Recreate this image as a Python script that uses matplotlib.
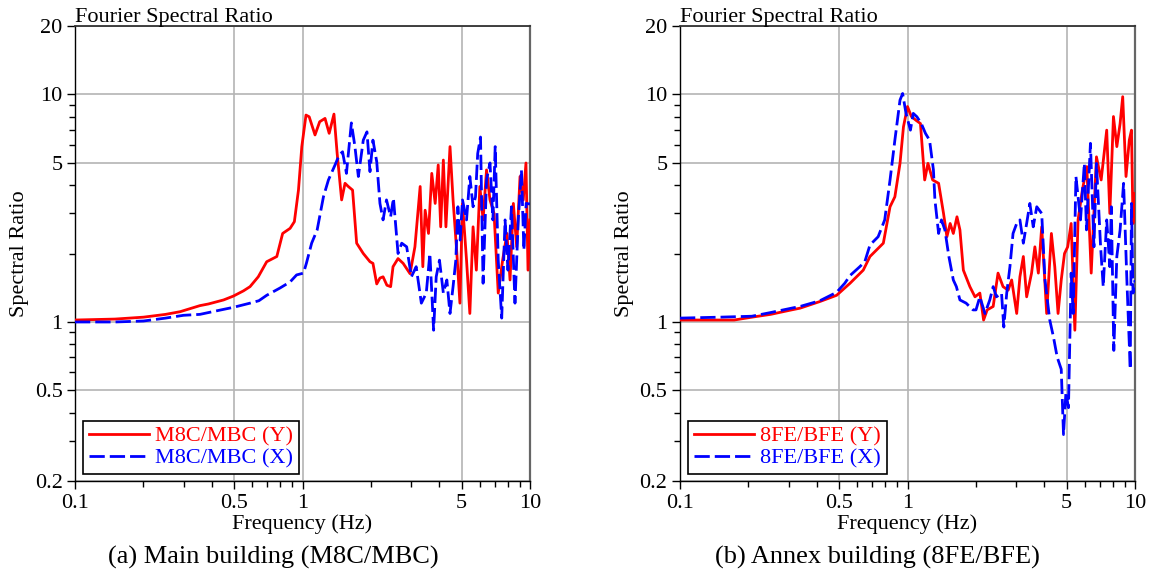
import numpy as np
import matplotlib
matplotlib.use("Agg")
from matplotlib import pyplot as plt
from matplotlib.ticker import FixedLocator, FixedFormatter, NullFormatter

plt.rcParams['font.family'] = ['Liberation Serif', 'DejaVu Serif']

# ---- data ----
# (a) main building, Y direction (red, solid)
main_fy = [0.1, 0.15, 0.2, 0.25, 0.29, 0.354, 0.386, 0.45, 0.497, 0.55, 0.588, 0.639,
           0.696, 0.771, 0.818, 0.882, 0.921, 0.96, 0.993, 1.036, 1.07, 1.135, 1.19,
           1.256, 1.31, 1.375, 1.42, 1.486, 1.538, 1.59, 1.66, 1.73, 1.85, 1.98, 2.04,
           2.12, 2.19, 2.26, 2.35, 2.44, 2.50, 2.63, 2.77, 2.97, 3.12, 3.29, 3.38, 3.46,
           3.58, 3.70, 3.83, 3.95, 4.05, 4.16, 4.27, 4.45, 4.59, 4.77, 4.92, 5.05, 5.26,
           5.44, 5.62, 5.81, 6.02, 6.22, 6.44, 6.67, 6.95, 7.25, 7.58, 7.92, 8.17, 8.45,
           8.74, 9.04, 9.34, 9.6, 9.8, 10.0]
main_y = [1.02, 1.03, 1.05, 1.08, 1.11, 1.18, 1.20, 1.25, 1.30, 1.37, 1.43, 1.58,
          1.84, 1.94, 2.45, 2.58, 2.76, 3.80, 5.90, 8.12, 7.98, 6.64, 7.59,
          7.85, 6.75, 8.2, 5.51, 3.44, 4.07, 3.94, 3.8, 2.22, 2.0, 1.84, 1.81,
          1.47, 1.56, 1.58, 1.45, 1.43, 1.75, 1.90, 1.81, 1.63, 2.14, 3.94, 1.75, 3.10,
          2.45, 4.5, 3.32, 4.90, 2.62, 5.15, 2.62, 5.9, 3.44, 2.0, 1.21, 3.32, 1.87,
          1.09, 2.62, 1.69, 3.94, 2.81, 4.66, 3.44, 3.0, 1.34, 1.87, 2.45, 1.53, 3.32,
          2.14, 4.36, 3.44, 5.0, 1.69, 2.81]

# (a) main building, X direction (blue, dashed)
main_fx = [0.1, 0.15, 0.2, 0.25, 0.3, 0.354, 0.42, 0.497, 0.588, 0.643, 0.696, 0.796,
           0.882, 0.942, 1.01, 1.04, 1.097, 1.16, 1.236, 1.30, 1.39, 1.45, 1.50, 1.56,
           1.64, 1.70, 1.76, 1.85, 1.92, 1.98, 2.04, 2.12, 2.19, 2.26, 2.34, 2.44, 2.51,
           2.63, 2.73, 2.87, 3.01, 3.16, 3.33, 3.50, 3.63, 3.77, 3.87, 4.0, 4.16, 4.31,
           4.45, 4.59, 4.72, 4.82, 4.93, 5.05, 5.26, 5.44, 5.62, 5.76, 5.89, 6.06, 6.22,
           6.44, 6.67, 6.87, 7.03, 7.25, 7.51, 7.77, 8.0, 8.29, 8.59, 8.88, 9.17, 9.4,
           9.62, 10.0]
main_x = [1.0, 1.0, 1.01, 1.04, 1.07, 1.08, 1.12, 1.16, 1.21, 1.24, 1.31, 1.41,
          1.50, 1.61, 1.64, 1.81, 2.22, 2.54, 3.55, 4.21, 4.90, 5.42, 5.6, 4.5,
          7.5, 5.9, 4.36, 6.3, 6.85, 4.58, 6.3, 5.06, 3.32, 2.81, 3.44, 2.9, 3.5,
          2.0, 2.22, 2.14, 1.58, 1.75, 1.21, 1.34, 2.0, 0.92, 1.58, 1.87, 1.34, 1.53,
          1.09, 1.43, 1.87, 3.21, 2.29, 3.44, 2.81, 4.36, 3.21, 3.55, 5.5, 6.5, 1.48,
          4.21, 5.0, 2.81, 5.9, 1.87, 1.04, 2.81, 1.69, 3.21, 1.21, 2.81, 4.66, 2.07,
          3.32, 3.3]

# (b) annex building, Y direction (red, solid)
annex_fy = [0.1, 0.15, 0.173, 0.207, 0.25, 0.309, 0.337, 0.412, 0.488, 0.559, 0.639,
            0.684, 0.73, 0.783, 0.838, 0.88, 0.927, 0.96, 1.0, 1.04, 1.09, 1.14, 1.19,
            1.23, 1.29, 1.37, 1.44, 1.49, 1.54, 1.59, 1.65, 1.70, 1.76, 1.88, 1.98, 2.08,
            2.16, 2.24, 2.38, 2.5, 2.63, 2.77, 2.87, 3.02, 3.12, 3.23, 3.34, 3.51, 3.63,
            3.76, 3.89, 4.09, 4.29, 4.44, 4.59, 4.74, 4.9, 5.06, 5.24, 5.44, 5.62, 5.87,
            6.14, 6.42, 6.77, 7.1, 7.51, 7.75, 8.04, 8.32, 8.6, 8.83, 9.13, 9.44, 9.65,
            9.8, 10.0]
annex_y = [1.02, 1.02, 1.02, 1.05, 1.08, 1.13, 1.15, 1.23, 1.31, 1.48, 1.69,
           1.94, 2.07, 2.22, 3.21, 3.55, 4.98, 7.21, 8.85, 8.0, 7.7, 7.45, 4.21,
           4.98, 4.21, 4.07, 3.0, 2.37, 2.71, 2.45, 2.9, 2.54, 1.69, 1.43, 1.29, 1.34,
           1.02, 1.13, 1.17, 1.64, 1.43, 1.38, 1.53, 1.09, 1.58, 1.94, 1.29, 1.64, 2.14,
           1.64, 2.62, 1.09, 2.45, 1.75, 1.09, 1.53, 2.0, 2.14, 2.71, 0.92, 2.81, 3.8,
           4.82, 1.64, 5.32, 4.21, 6.97, 3.0, 8.0, 5.9, 7.45, 9.78, 4.36, 6.3, 6.97,
           2.71, 3.67]

# (b) annex building, X direction (blue, dashed)
annex_fx = [0.1, 0.15, 0.207, 0.25, 0.309, 0.337, 0.412, 0.488, 0.53, 0.559, 0.617,
            0.649, 0.684, 0.743, 0.794, 0.838, 0.88, 0.927, 0.952, 0.985, 1.03, 1.06,
            1.10, 1.15, 1.20, 1.25, 1.30, 1.32, 1.37, 1.41, 1.46, 1.52, 1.59, 1.64, 1.70,
            1.81, 1.94, 2.0, 2.08, 2.19, 2.3, 2.38, 2.46, 2.59, 2.65, 2.73, 2.82, 2.91,
            3.02, 3.12, 3.23, 3.34, 3.45, 3.57, 3.70, 3.89, 4.02, 4.22, 4.38, 4.55, 4.74,
            4.85, 4.97, 5.1, 5.24, 5.35, 5.5, 5.76, 5.99, 6.12, 6.37, 6.6, 6.77, 7.06,
            7.25, 7.51, 7.75, 7.87, 8.07, 8.32, 8.6, 8.91, 9.21, 9.53, 9.65, 9.8, 10.0]
annex_x = [1.04, 1.05, 1.06, 1.10, 1.15, 1.17, 1.24, 1.35, 1.48, 1.6, 1.75,
           1.84, 2.18, 2.37, 2.81, 4.21, 6.3, 9.45, 10.1, 8.26, 6.97, 8.26,
           7.98, 7.45, 6.74, 6.3, 4.66, 3.44, 2.45, 2.81, 2.54, 1.94, 1.53, 1.43, 1.25,
           1.21, 1.13, 1.13, 1.29, 1.09, 1.25, 1.43, 1.29, 1.34, 0.95, 1.34, 1.75, 2.45,
           2.71, 2.81, 2.22, 2.71, 3.32, 2.62, 3.21, 3.0, 1.53, 1.02, 0.86, 0.70, 0.62,
           0.32, 0.49, 0.42, 1.64, 1.09, 4.36, 2.81, 4.98, 2.54, 6.1, 2.14, 4.98, 2.14,
           1.43, 2.81, 1.75, 3.21, 0.75, 1.94, 2.54, 4.07, 1.53, 0.62, 3.32, 1.34, 1.53]

x_major = [0.1, 0.5, 1, 5, 10]
x_major_labels = ['0.1', '0.5', '1', '5', '10']
x_minor = [0.2, 0.3, 0.4, 0.6, 0.7, 0.8, 0.9, 2, 3, 4, 6, 7, 8, 9]
y_major = [0.2, 0.5, 1, 5, 10, 20]
y_major_labels = ['0.2', '0.5', '1', '5', '10', '20']
y_minor = [0.3, 0.4, 0.6, 0.7, 0.8, 0.9, 2, 3, 4, 6, 7, 8, 9]

panels = [
    (main_fy, main_y, main_fx, main_x, 'M8C/MBC (Y)', 'M8C/MBC (X)',
     '(a) Main building (M8C/MBC)'),
    (annex_fy, annex_y, annex_fx, annex_x, '8FE/BFE (Y)', '8FE/BFE (X)',
     '(b) Annex building (8FE/BFE)'),
]

fig = plt.figure(figsize=(11.51, 5.75), dpi=100)
W, H = 1151.0, 575.0
lefts = [75, 680]
caption_x = [273, 877]

for i, (fy, vy, fx, vx, ly, lx, cap) in enumerate(panels):
    ax = fig.add_axes([lefts[i] / W, 1 - 481 / H, 455 / W, 455 / H])
    ax.set_xscale('log')
    ax.set_yscale('log')
    ax.plot(fy, vy, color='#ff0000', lw=2.0, label=ly, zorder=3)
    ax.plot(fx, vx, color='#0000ff', lw=2.0, ls=(0, (5.5, 1.8)), label=lx, zorder=3)
    ax.set_xlim(0.1, 10)
    ax.set_ylim(0.2, 20)

    ax.xaxis.set_major_locator(FixedLocator(x_major))
    ax.xaxis.set_major_formatter(FixedFormatter(x_major_labels))
    ax.xaxis.set_minor_locator(FixedLocator(x_minor))
    ax.xaxis.set_minor_formatter(NullFormatter())
    ax.yaxis.set_major_locator(FixedLocator(y_major))
    ax.yaxis.set_major_formatter(FixedFormatter(y_major_labels))
    ax.yaxis.set_minor_locator(FixedLocator(y_minor))
    ax.yaxis.set_minor_formatter(NullFormatter())
    ax.tick_params(which='major', direction='out', length=6, width=1.0,
                   labelsize=16, pad=3, colors='black')
    ax.tick_params(which='minor', direction='out', length=4.5, width=1.0)

    ax.set_axisbelow(True)
    ax.grid(which='major', color='#b4b4b4', lw=1.2)

    ax.spines['left'].set_color('black')
    ax.spines['bottom'].set_color('black')
    ax.spines['left'].set_linewidth(1.0)
    ax.spines['bottom'].set_linewidth(1.0)
    ax.spines['top'].set_color('#333333')
    ax.spines['top'].set_linewidth(1.3)
    ax.spines['right'].set_color('#666666')
    ax.spines['right'].set_linewidth(1.6)

    ax.set_xlabel('Frequency (Hz)', fontsize=16, labelpad=1)
    ax.set_ylabel('Spectral Ratio', fontsize=16, labelpad=4)
    ax.text(0.0, 1.008, 'Fourier Spectral Ratio', transform=ax.transAxes,
            ha='left', va='baseline', fontsize=16)

    leg = ax.legend(loc='lower left', bbox_to_anchor=(0.018, 0.015), borderaxespad=0,
                    fancybox=False, edgecolor='black', framealpha=1, fontsize=16,
                    handlelength=2.7, handletextpad=0.3, labelspacing=0.05,
                    borderpad=0.25)
    leg.get_frame().set_linewidth(1.2)
    for t, ln in zip(leg.get_texts(), leg.get_lines()):
        t.set_color(ln.get_color())

    fig.text(caption_x[i] / W, 1 - 557 / H, cap, ha='center', va='center', fontsize=19)

fig.savefig('out.png', dpi=100)
